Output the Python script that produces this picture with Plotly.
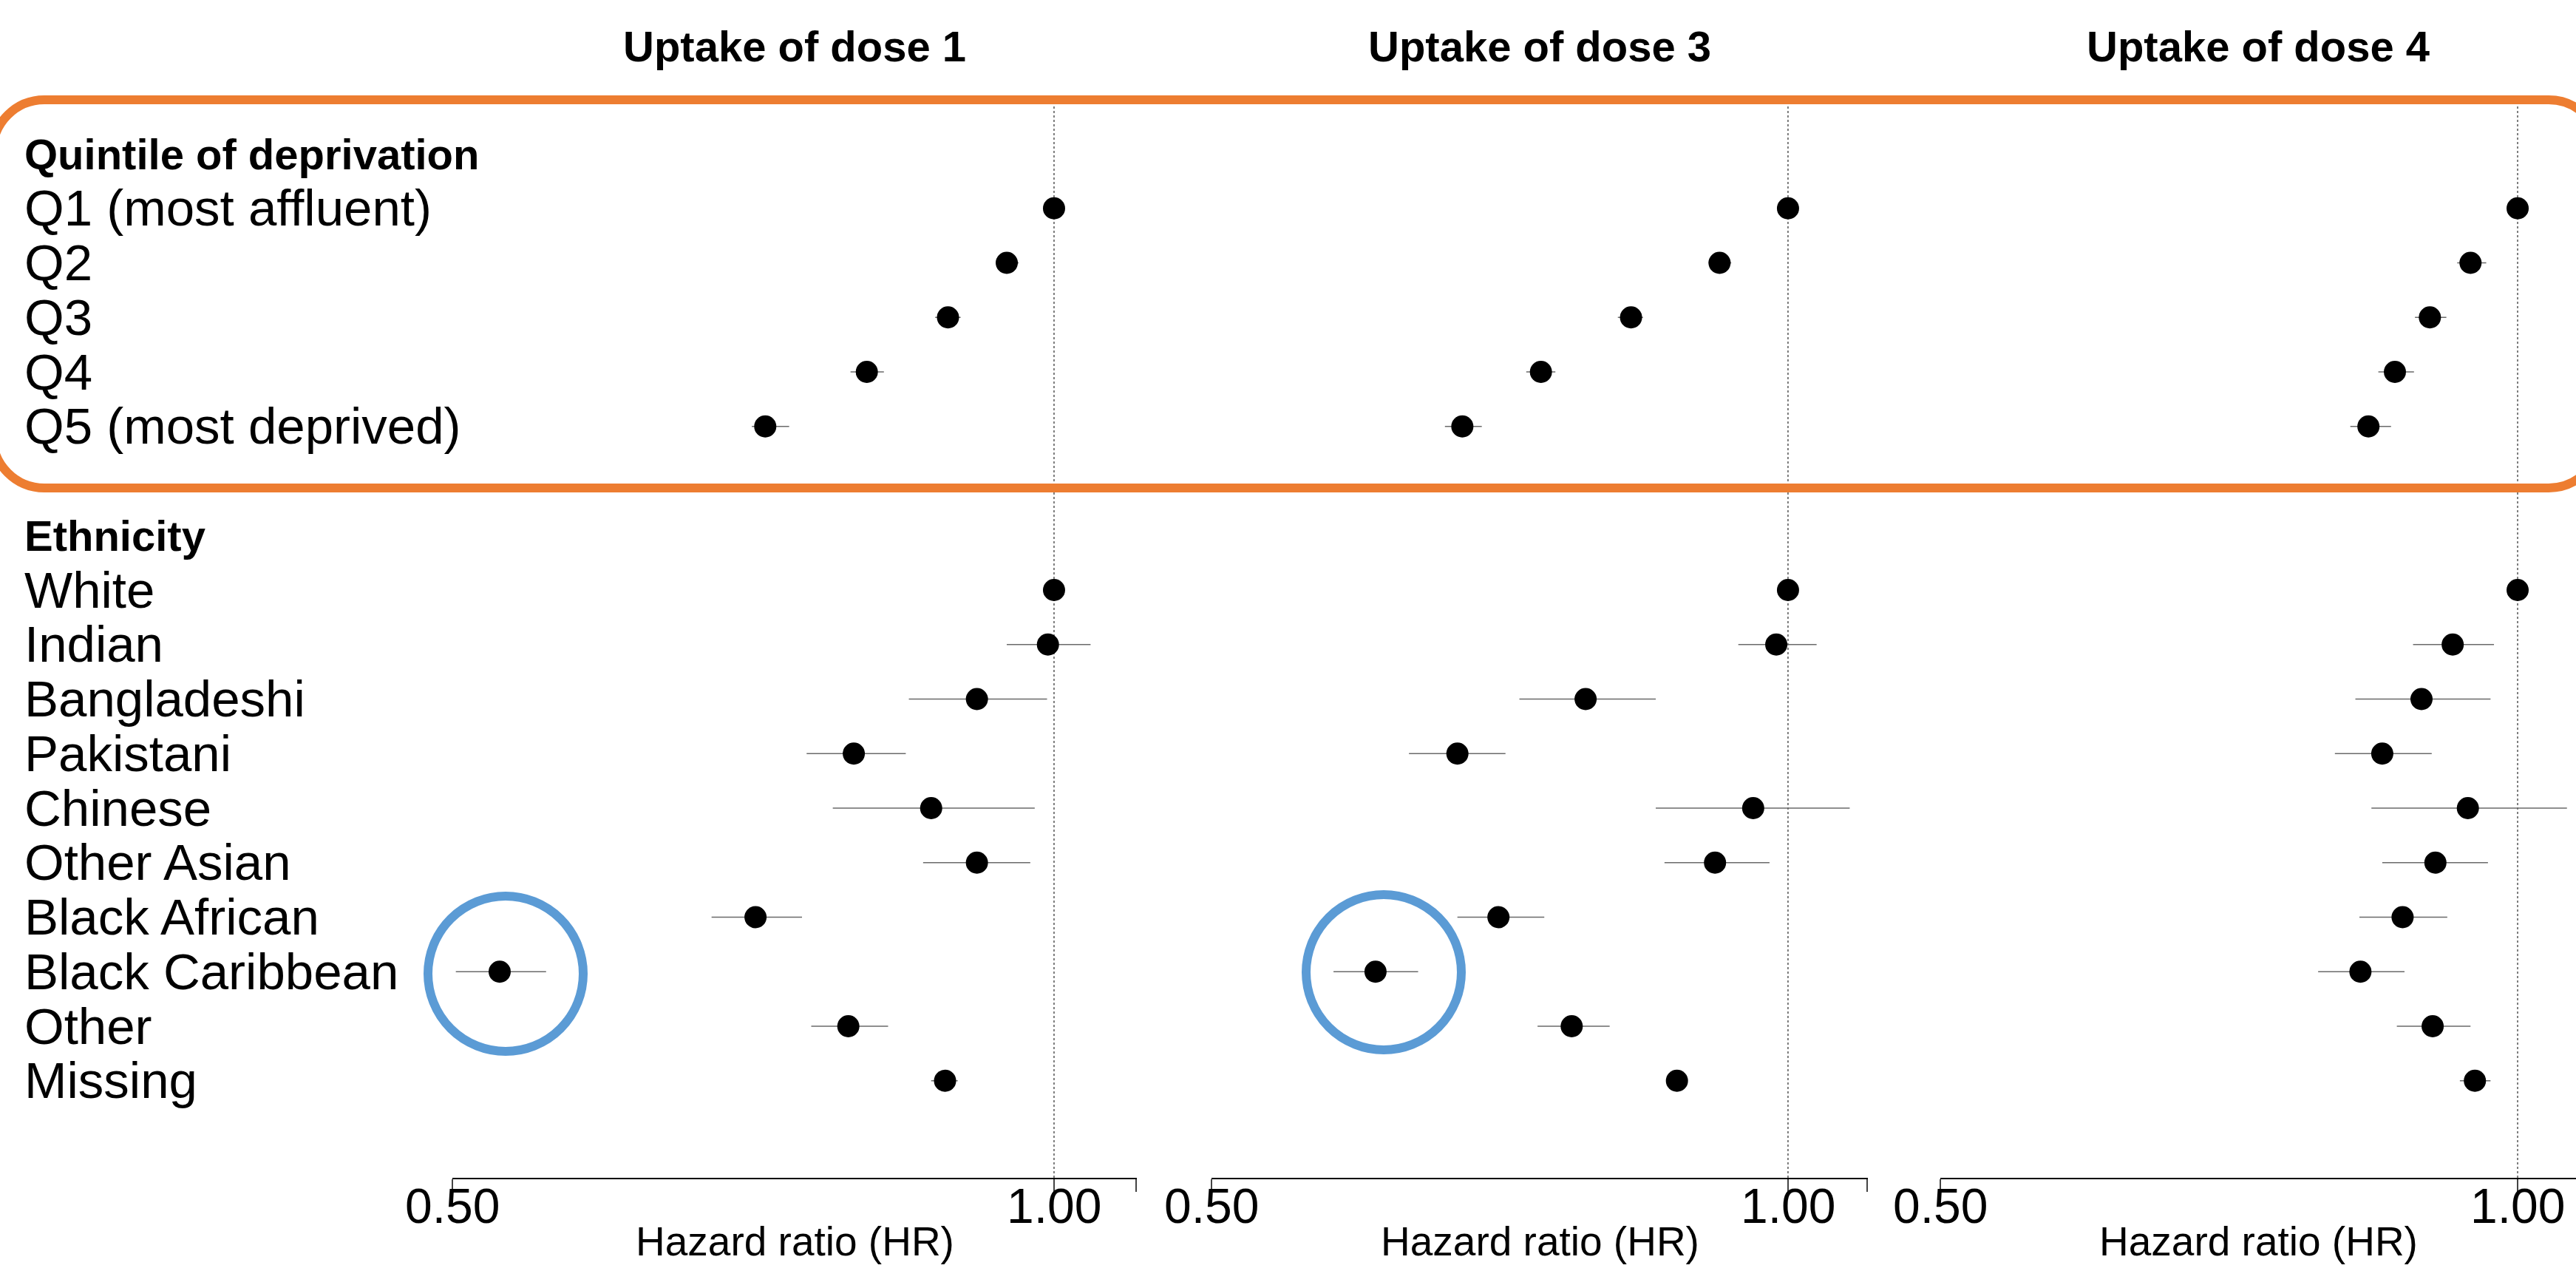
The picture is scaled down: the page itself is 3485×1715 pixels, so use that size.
import math
import plotly.graph_objects as go

W, H = 3485, 1715
FONT = "Liberation Sans, Arial, sans-serif"

# ---------------- data ----------------
group_titles = ["Quintile of deprivation", "Ethnicity"]
deprivation = ["Q1 (most affluent)", "Q2", "Q3", "Q4", "Q5 (most deprived)"]
ethnicity = ["White", "Indian", "Bangladeshi", "Pakistani", "Chinese", "Other Asian",
             "Black African", "Black Caribbean", "Other", "Missing"]
panel_titles = ["Uptake of dose 1", "Uptake of dose 3", "Uptake of dose 4"]
axis_title = "Hazard ratio (HR)"
tick_vals = [0.5, 1.0]
tick_text = ["0.50", "1.00"]

# Hazard ratios and 95% CI (deprivation rows then ethnicity rows); reference rows have no CI
hr_dose1 = [1.00, 0.947, 0.885, 0.806, 0.717,
            1.00, 0.993, 0.915, 0.794, 0.868, 0.915, 0.709, 0.528, 0.789, 0.882]
lo_dose1 = [None, 0.935, 0.872, 0.791, 0.706,
            None, 0.947, 0.846, 0.752, 0.775, 0.860, 0.674, 0.502, 0.756, 0.868]
hi_dose1 = [None, 0.960, 0.898, 0.822, 0.737,
            None, 1.043, 0.992, 0.843, 0.978, 0.973, 0.748, 0.557, 0.826, 0.895]

hr_dose3 = [1.00, 0.921, 0.828, 0.743, 0.676,
            1.00, 0.986, 0.784, 0.672, 0.959, 0.916, 0.706, 0.609, 0.771, 0.875]
lo_dose3 = [None, 0.909, 0.815, 0.730, 0.662,
            None, 0.942, 0.724, 0.634, 0.853, 0.862, 0.672, 0.579, 0.740, 0.866]
hi_dose3 = [None, 0.934, 0.840, 0.756, 0.692,
            None, 1.035, 0.853, 0.712, 1.077, 0.978, 0.746, 0.641, 0.807, 0.885]

hr_dose4 = [1.00, 0.945, 0.900, 0.863, 0.836,
            1.00, 0.925, 0.891, 0.850, 0.942, 0.906, 0.871, 0.828, 0.903, 0.950]
lo_dose4 = [None, 0.930, 0.884, 0.846, 0.818,
            None, 0.882, 0.823, 0.803, 0.839, 0.850, 0.827, 0.787, 0.865, 0.933]
hi_dose4 = [None, 0.963, 0.918, 0.883, 0.859,
            None, 0.972, 0.968, 0.902, 1.061, 0.965, 0.919, 0.873, 0.945, 0.968]

# ---------------- layout helpers ----------------
def px(x):
    return x / W

def py(y):
    return 1 - y / H

# row slots (0 = top)
dep_slots = [1, 2, 3, 4, 5]
eth_slots = [8, 9, 10, 11, 12, 13, 14, 15, 16, 17]
group_slots = [0, 7]
row_slots = dep_slots + eth_slots
row_labels = deprivation + ethnicity

plot_top_px, plot_bot_px = 135, 1593
slot0_px, slot_step = 208, 73.75
y_top = (plot_top_px - slot0_px) / slot_step
y_bot = (plot_bot_px - slot0_px) / slot_step

panels = [
    dict(hr=hr_dose1, lo=lo_dose1, hi=hi_dose1, x0=612, x1=1538, xmax=1.1001, endtick=True),
    dict(hr=hr_dose3, lo=lo_dose3, hi=hi_dose3, x0=1639, x1=2527, xmax=1.1008, endtick=True),
    dict(hr=hr_dose4, lo=lo_dose4, hi=hi_dose4, x0=2625, x1=3485, xmax=1.0726, endtick=False),
]

fig = go.Figure()
layout = dict(
    width=W, height=H,
    margin=dict(l=0, r=0, t=0, b=0),
    paper_bgcolor="white", plot_bgcolor="white",
    showlegend=False,
    font=dict(family=FONT, color="black"),
)
shapes = []
annotations = []

for i, p in enumerate(panels):
    sfx = "" if i == 0 else str(i + 1)
    xa, ya = "x" + sfx, "y" + sfx
    # CI segments
    cx, cy = [], []
    for lo, hi, s in zip(p["lo"], p["hi"], row_slots):
        if lo is None:
            continue
        cx += [lo, hi, None]
        cy += [s, s, None]
    fig.add_trace(go.Scatter(x=cx, y=cy, mode="lines", xaxis=xa, yaxis=ya,
                             line=dict(color="#6a6a6a", width=1.6), hoverinfo="skip"))
    fig.add_trace(go.Scatter(x=p["hr"], y=row_slots, mode="markers", xaxis=xa, yaxis=ya,
                             marker=dict(color="black", size=30, line=dict(width=0))))
    tv = list(tick_vals)
    if p["endtick"]:
        tv.append(p["xmax"] * 0.9995)
    layout["xaxis" + sfx] = dict(
        type="log", domain=[px(p["x0"]), px(p["x1"])],
        range=[math.log10(0.5), math.log10(p["xmax"])],
        anchor=ya, showgrid=False, zeroline=False,
        showline=True, linecolor="black", linewidth=1.6,
        ticks="outside", ticklen=17, tickwidth=1.6, tickcolor="#444",
        tickmode="array", tickvals=tv, showticklabels=False,
        automargin=False,
    )
    layout["yaxis" + sfx] = dict(
        domain=[py(plot_bot_px), py(plot_top_px)],
        range=[y_bot, y_top], anchor=xa,
        visible=False, showgrid=False, zeroline=False, automargin=False,
    )
    # tick labels placed through the axis scale
    for v, t in zip(tick_vals, tick_text):
        annotations.append(dict(text=t, xref=xa, yref="paper", x=math.log10(v), y=py(1631),
                                xanchor="center", yanchor="middle", showarrow=False,
                                font=dict(size=66, family=FONT, color="black")))
    # reference line at HR = 1
    shapes.append(dict(type="line", xref=xa, yref=ya + " domain", x0=1, x1=1, y0=0, y1=1,
                       line=dict(color="#555", width=1.5, dash="dot"), layer="below"))
    cxp = (p["x0"] + p["x1"]) / 2 / W
    annotations.append(dict(text="<b>" + panel_titles[i] + "</b>", xref="paper", yref="paper",
                            x=cxp, y=py(62), xanchor="center", yanchor="middle",
                            showarrow=False, font=dict(size=58, family=FONT, color="black")))
    annotations.append(dict(text=axis_title, xref="paper", yref="paper",
                            x=cxp, y=py(1679), xanchor="center", yanchor="middle",
                            showarrow=False, font=dict(size=55, family=FONT, color="black")))

# row labels
for lab, s in zip(row_labels, row_slots):
    annotations.append(dict(text=lab, xref="paper", yref="y", x=px(31), y=s,
                            xanchor="left", yanchor="middle", showarrow=False,
                            font=dict(size=69, family=FONT, color="black")))
for lab, s in zip(group_titles, group_slots):
    annotations.append(dict(text="<b>" + lab + "</b>", xref="paper", yref="y", x=px(31), y=s,
                            xanchor="left", yanchor="middle", showarrow=False,
                            font=dict(size=58, family=FONT, color="black")))

# orange rounded highlight box
L, T, R, B, r = -10, 135, 3518, 660, 70
k = 0.5523 * r
def P(x, y):
    return f"{px(x):.6f},{py(y):.6f}"
path = (f"M {P(L + r, T)} L {P(R - r, T)} C {P(R - r + k, T)} {P(R, T + r - k)} {P(R, T + r)} "
        f"L {P(R, B - r)} C {P(R, B - r + k)} {P(R - r + k, B)} {P(R - r, B)} "
        f"L {P(L + r, B)} C {P(L + r - k, B)} {P(L, B - r + k)} {P(L, B - r)} "
        f"L {P(L, T + r)} C {P(L, T + r - k)} {P(L + r - k, T)} {P(L + r, T)} Z")
shapes.append(dict(type="path", xref="paper", yref="paper", path=path,
                   line=dict(color="#ED7D31", width=12), fillcolor="rgba(0,0,0,0)"))

# blue circles
for (ccx, ccy) in [(684, 1317), (1872, 1315)]:
    rr = 105
    shapes.append(dict(type="circle", xref="paper", yref="paper",
                       x0=px(ccx - rr), x1=px(ccx + rr), y0=py(ccy + rr), y1=py(ccy - rr),
                       line=dict(color="#5B9BD5", width=12)))

layout["shapes"] = shapes
layout["annotations"] = annotations
fig.update_layout(**layout)
fig.write_html("out.html", config={"displayModeBar": False},
               post_script="document.body.style.margin='0';document.body.style.overflow='hidden';")
